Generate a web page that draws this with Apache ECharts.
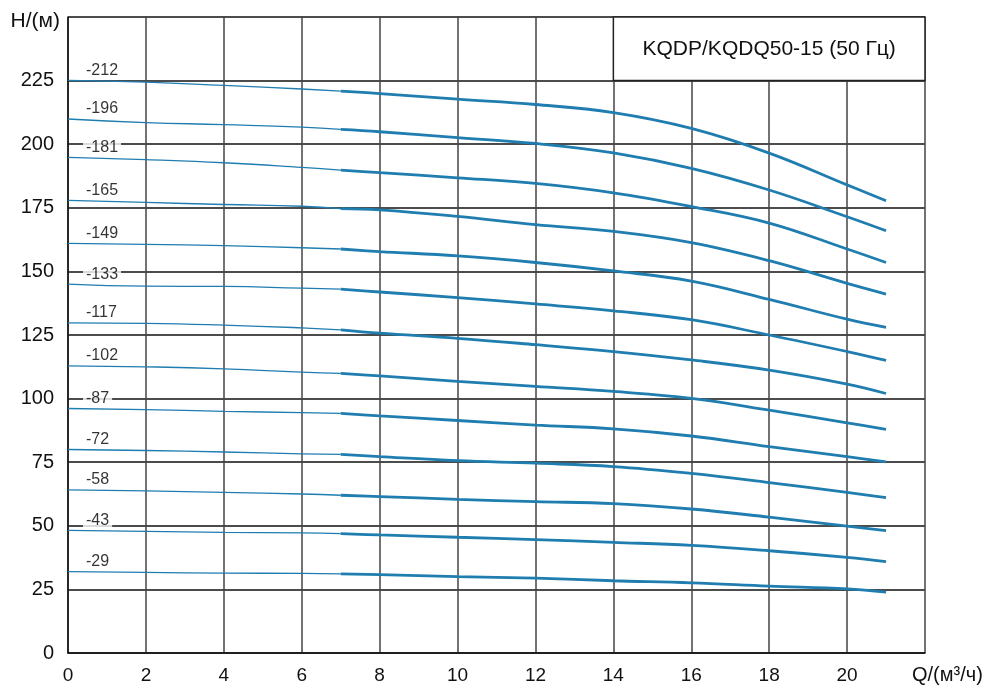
<!DOCTYPE html>
<html>
<head>
<meta charset="utf-8">
<title>KQDP/KQDQ50-15</title>
<script src="https://cdn.jsdelivr.net/npm/echarts@6/dist/echarts.min.js"></script>
<style>
  html, body { margin: 0; padding: 0; background: #fff; }
  #chart { width: 990px; height: 687px; }
</style>
</head>
<body>
<div id="chart"></div>
<script>
// Q values (m3/h) for the thin start part and the thick working part
const qLow = [0, 2, 4, 6, 7]
const qHigh = [7, 8, 10, 12, 14, 16, 18, 20, 21]

// head H (m), one pair of arrays per impeller variant
const lo212 = [225.1, 224.4, 223.1, 221.7, 220.9]
const hi212 = [220.9, 219.9, 217.7, 215.6, 212.4, 206.2, 196.5, 184.0, 177.8]
const lo196 = [209.9, 208.5, 207.7, 206.7, 205.8]
const hi196 = [205.8, 204.9, 202.6, 200.3, 196.6, 190.5, 182.0, 171.5, 166.0]
const lo181 = [194.8, 193.9, 192.7, 190.9, 189.8]
const hi181 = [189.8, 188.8, 186.8, 184.6, 180.9, 175.5, 169.0, 158.8, 153.5]
const lo165 = [177.9, 177.1, 176.3, 175.6, 174.7]
const hi165 = [174.7, 174.2, 171.6, 168.4, 165.7, 161.3, 154.2, 145.3, 141.1]
const lo149 = [161.0, 160.6, 160.1, 159.3, 158.8]
const hi149 = [158.8, 157.8, 156.1, 153.5, 150.2, 146.2, 139.0, 131.2, 128.0]
const lo133 = [145.0, 144.2, 144.1, 143.4, 143.0]
const hi133 = [143.0, 141.9, 139.7, 137.2, 134.5, 131.0, 125.0, 118.5, 115.0]
const lo117 = [129.8, 129.6, 128.9, 127.8, 127.0]
const hi117 = [127.0, 125.7, 123.7, 121.2, 118.5, 115.2, 111.2, 105.7, 102.0]
const lo102 = [112.9, 112.5, 111.7, 110.4, 109.9]
const hi102 = [109.9, 108.9, 106.8, 104.8, 102.8, 100.1, 95.5, 90.5, 87.9]
const lo87 = [96.1, 95.7, 95.0, 94.5, 94.2]
const hi87 = [94.2, 93.2, 91.4, 89.6, 88.1, 85.3, 81.1, 77.2, 75.1]
const lo72 = [80.0, 79.6, 79.0, 78.3, 78.1]
const hi72 = [78.1, 77.2, 75.6, 74.6, 73.3, 70.6, 67.0, 63.1, 61.1]
const lo58 = [64.1, 63.7, 63.1, 62.5, 62.0]
const hi58 = [62.0, 61.5, 60.4, 59.5, 58.7, 56.6, 53.4, 49.9, 48.1]
const lo43 = [48.2, 47.8, 47.4, 47.2, 46.9]
const hi43 = [46.9, 46.4, 45.5, 44.6, 43.5, 42.3, 40.2, 37.6, 35.9]
const lo29 = [32.0, 31.7, 31.4, 31.3, 31.1]
const hi29 = [31.1, 30.8, 30.0, 29.4, 28.4, 27.6, 26.3, 25.2, 23.9]

const curveNames = ['-212', '-196', '-181', '-165', '-149', '-133', '-117', '-102', '-87', '-72', '-58', '-43', '-29']
const lowParts = [lo212, lo196, lo181, lo165, lo149, lo133, lo117, lo102, lo87, lo72, lo58, lo43, lo29]
const highParts = [hi212, hi196, hi181, hi165, hi149, hi133, hi117, hi102, hi87, hi72, hi58, hi43, hi29]

const titleText = 'KQDP/KQDQ50-15 (50 Гц)'
const titleBox = [[14, 225], [22, 250]]

const lineColor = '#1f7db0'
const fontFamily = 'Liberation Sans, Arial, sans-serif'

const zip = (xs, ys) => xs.map((x, i) => [x, ys[i]])

const series = []
curveNames.forEach((name, i) => {
  series.push({
    name: name + ' start',
    type: 'line',
    data: zip(qLow, lowParts[i]),
    smooth: true,
    showSymbol: false,
    lineStyle: { color: lineColor, width: 1.3 },
    z: 3
  })
  series.push({
    name: name,
    type: 'line',
    data: zip(qHigh, highParts[i]),
    smooth: 0.4,
    showSymbol: false,
    lineStyle: { color: lineColor, width: 2.8 },
    z: 3
  })
})

// curve names written just above the start of each curve
series.push({
  name: 'labels',
  type: 'scatter',
  symbolSize: 0,
  silent: true,
  z: 4,
  data: curveNames.map((name, i) => ({ name: name, value: [0, lowParts[i][0]] })),
  label: {
    show: true,
    position: 'right',
    distance: 0,
    offset: [15, -10],
    formatter: '{b}',
    color: '#000',
    textBorderWidth: 0,
    fontSize: 16,
    fontFamily: fontFamily,
    backgroundColor: '#fff',
    padding: [0, 3, 0, 3]
  },
  emphasis: { disabled: true }
})

// title box in the upper right cell
series.push({
  name: 'title',
  type: 'line',
  data: [],
  z: 5,
  markArea: {
    silent: true,
    itemStyle: { color: '#fff', borderColor: '#222', borderWidth: 1.5 },
    label: {
      show: true,
      position: 'inside',
      color: '#111',
      fontSize: 21,
      fontFamily: fontFamily
    },
    data: [[
      { name: titleText, coord: titleBox[0] },
      { coord: titleBox[1] }
    ]]
  }
})

const chart = echarts.init(document.getElementById('chart'), null, { renderer: 'canvas' })
chart.setOption({
  animation: false,
  backgroundColor: '#fff',
  grid: { left: 68, right: 65, top: 17, bottom: 34, containLabel: false },
  xAxis: {
    type: 'value',
    min: 0,
    max: 22,
    interval: 2,
    name: 'Q/(м³/ч)',
    nameLocation: 'end',
    nameGap: -13,
    nameTextStyle: {
      color: '#111', fontSize: 20, fontFamily: fontFamily,
      align: 'left', verticalAlign: 'top', padding: [12, 0, 0, 0]
    },
    axisLine: { lineStyle: { color: '#111', width: 1.5 } },
    axisTick: { show: false },
    axisLabel: {
      color: '#111', fontSize: 19, fontFamily: fontFamily, margin: 13,
      formatter: v => (v >= 22 ? '' : String(v))
    },
    splitLine: { show: true, lineStyle: { color: '#444', width: 1.5 } }
  },
  yAxis: {
    type: 'value',
    min: 0,
    max: 250,
    interval: 25,
    name: 'H/(м)',
    nameLocation: 'end',
    nameGap: -4,
    nameTextStyle: {
      color: '#111', fontSize: 21, fontFamily: fontFamily,
      align: 'right', verticalAlign: 'middle', padding: [0, 8, 0, 0]
    },
    axisLine: { show: true, lineStyle: { color: '#111', width: 1.5 } },
    axisTick: { show: false },
    axisLabel: {
      color: '#111', fontSize: 20, fontFamily: fontFamily, margin: 14,
      formatter: v => (v >= 250 ? '' : String(v))
    },
    splitLine: { show: true, lineStyle: { color: '#111', width: 1.5 } }
  },
  series: series
})
</script>
</body>
</html>
